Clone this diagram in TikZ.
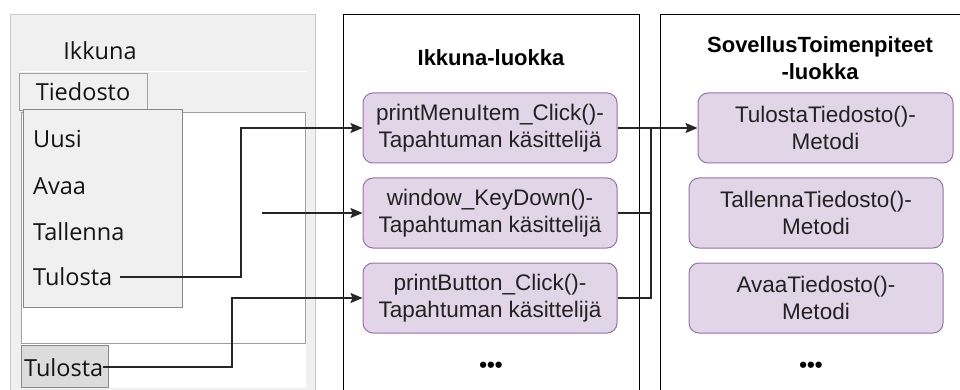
\documentclass[tikz,border=0pt]{standalone}
\usepackage{fontspec}
\setmainfont{Liberation Sans}
\newfontfamily\winfont{Open Sans}
\usetikzlibrary{arrows.meta}
\definecolor{pfill}{HTML}{E1D5E7}
\definecolor{pdraw}{HTML}{9673A6}
\definecolor{wfill}{HTML}{F0F0F0}
\definecolor{wedge}{HTML}{C8C8C8}
\definecolor{medge}{HTML}{A0A0A0}
\definecolor{bfill}{HTML}{DCDCDC}
\definecolor{bedge}{HTML}{888888}
\definecolor{wtext}{HTML}{141414}
\definecolor{dtext}{HTML}{222222}
\tikzset{
  rect/.style={anchor=north west, inner sep=0pt, line width=1pt},
  wintxt/.style={font=\winfont\fontsize{23.5pt}{27pt}\selectfont, text=wtext, inner sep=0pt},
  handler/.style={draw=pdraw, fill=pfill, rounded corners=10pt, line width=1pt,
    minimum height=70pt, align=center, inner sep=0pt, text=dtext,
    font=\fontsize{22.5pt}{27pt}\selectfont},
  classbox/.style={draw=black, fill=white, line width=1pt, anchor=north west, inner sep=0pt},
  title/.style={font=\bfseries\fontsize{22pt}{27pt}\selectfont, align=center, inner sep=0pt},
  conn/.style={line width=1.3pt, draw=black!85},
  arr/.style={conn, -{Stealth[length=12pt, width=10pt, inset=2pt]}},
  dots/.style={font=\bfseries\fontsize{22pt}{24pt}\selectfont, inner sep=0pt}
}
\begin{document}
\begin{tikzpicture}[x=1pt,y=-1pt]
\useasboundingbox (0,0) rectangle (960,390);
\clip (0,0) rectangle (960,390);
% ---------- left window ----------
\node[rect, draw=wedge, fill=wfill, minimum width=305pt, minimum height=390pt] (win) at (10,14) {};
\draw[white!90!wfill, line width=1pt] (20,72) -- (307,72);
\node[rect, fill=white, minimum width=284pt, minimum height=275pt] (wbg) at (21,112) {};
\node[rect, draw=medge, minimum width=284pt, minimum height=231pt] (content) at (21,112) {};
\node[wintxt] (wtitle) at (100,51) {Ikkuna};
\node[rect, draw=medge, fill=wfill, minimum width=128pt, minimum height=37pt] (tied) at (19,73) {};
\node[wintxt] (tiedt) at (83,92) {Tiedosto};
\node[rect, draw=bedge, fill=wfill, minimum width=159pt, minimum height=198pt] (menu) at (23,109) {};
\node[wintxt, anchor=west] (muusi) at (33,139) {Uusi};
\node[wintxt, anchor=west] (mavaa) at (33,186) {Avaa};
\node[wintxt, anchor=west] (mtall) at (33,232) {Tallenna};
\node[wintxt, anchor=west, inner xsep=0pt] (mtul) at (33,277) {Tulosta};
\node[rect, draw=bedge, fill=bfill, minimum width=87pt, minimum height=42pt] (btn) at (21,345) {};
\node[wintxt, anchor=west] (btnt) at (24,368) {Tulosta};
% ---------- Ikkuna-luokka ----------
\node[classbox, minimum width=296pt, minimum height=400pt] (ik) at (343,14) {};
\node[title] (ikt) at (491,58) {Ikkuna-luokka};
\node[handler, minimum width=254pt] (h1) at (490,128) {printMenuItem\_Click()-\\Tapahtuman käsittelijä};
\node[handler, minimum width=254pt] (h2) at (490,213) {window\_KeyDown()-\\Tapahtuman käsittelijä};
\node[handler, minimum width=254pt] (h3) at (490,298) {printButton\_Click()-\\Tapahtuman käsittelijä};
\node[dots] (d1) at (491,367) {•••};
% ---------- SovellusToimenpiteet-luokka ----------
\node[classbox, minimum width=320pt, minimum height=400pt] (so) at (660,14) {};
\node[title] (sot) at (820,58) {SovellusToimenpiteet\\-luokka};
\node[handler, minimum width=255pt] (m1) at (825.5,128) {TulostaTiedosto()-\\Metodi};
\node[handler, minimum width=254pt] (m2) at (816,213) {TallennaTiedosto()-\\Metodi};
\node[handler, minimum width=254pt] (m3) at (816,298) {AvaaTiedosto()-\\Metodi};
\node[dots] (d2) at (811,367) {•••};
% ---------- connectors ----------
\coordinate (c1) at ([xshift=8pt]mtul.east);
\coordinate (c2) at (262,213);
\coordinate (c3) at (103,367);
\draw[arr] (c1) -- (241,277) |- (h1.west);
\draw[arr] (c2) -- (h2.west);
\draw[arr] (c3) -- (232,367) |- (h3.west);
\draw[arr] (h1.east) -- (m1.west);
\draw[conn] (h2.east) -| (651,128);
\draw[conn] (h3.east) -| (651,128);
\end{tikzpicture}
\end{document}
